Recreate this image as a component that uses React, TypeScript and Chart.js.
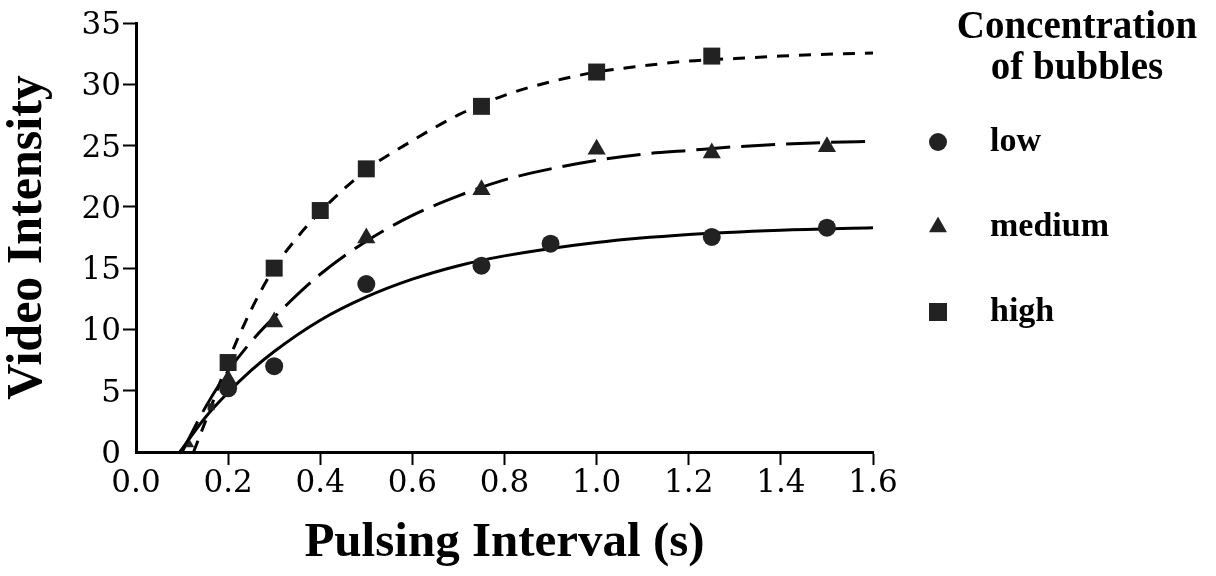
import React, { useEffect, useRef } from 'react';
import { Chart, registerables } from 'chart.js';

Chart.register(...registerables);

// ---- text ----
const seriesNames = ['low', 'medium', 'high'];
const legendTitleLines = ['Concentration', 'of bubbles'];
const xTitle = 'Pulsing Interval (s)';
const yTitle = 'Video Intensity';
const xTickLabels = ['0.0', '0.2', '0.4', '0.6', '0.8', '1.0', '1.2', '1.4', '1.6'];
const yTickLabels = ['0', '5', '10', '15', '20', '25', '30', '35'];

// ---- measured points ----
const lowX = [0.2, 0.3, 0.5, 0.75, 0.9, 1.25, 1.5];
const lowY = [5.2, 7.0, 13.7, 15.2, 17.0, 17.55, 18.3];
const mediumX = [0.117, 0.2, 0.3, 0.5, 0.75, 1.0, 1.25, 1.5];
const mediumY = [0.6, 5.9, 10.6, 17.45, 21.4, 24.7, 24.4, 24.9];
const highX = [0.163, 0.2, 0.3, 0.4, 0.5, 0.75, 1.0, 1.25];
const highY = [3.7, 7.3, 15.0, 19.7, 23.1, 28.2, 31.0, 32.3];

// ---- fitted curves ----
const lowFitX = [0.095, 0.15, 0.2, 0.25, 0.3, 0.4, 0.5, 0.6, 0.7, 0.8, 1.0, 1.2, 1.4, 1.6];
const lowFitY = [0, 2.8, 4.85, 6.65, 8.2, 10.75, 12.65, 14.1, 15.2, 16.0, 17.1, 17.75, 18.1, 18.3];
const mediumFitX = [0.1, 0.15, 0.2, 0.25, 0.3, 0.4, 0.5, 0.6, 0.7, 0.8, 0.9, 1.0, 1.1, 1.2, 1.3, 1.4, 1.5, 1.6];
const mediumFitY = [0, 3.6, 6.6, 9.0, 11.0, 14.5, 17.2, 19.3, 20.9, 22.2, 23.1, 23.8, 24.3, 24.6, 24.9, 25.1, 25.25, 25.35];
const highFitX = [0.125, 0.163, 0.2, 0.25, 0.3, 0.35, 0.4, 0.5, 0.6, 0.7, 0.8, 0.9, 1.0, 1.1, 1.2, 1.3, 1.4, 1.5, 1.6];
const highFitY = [0, 3.7, 7.4, 11.6, 15.0, 17.5, 19.6, 23.0, 25.4, 27.5, 29.1, 30.2, 31.0, 31.5, 31.9, 32.1, 32.3, 32.45, 32.55];

const markerColor = '#222222';
const lineColor = '#000000';
const serifFamily = '"Liberation Serif", "Times New Roman", serif';
const numFamily = '"DejaVu Serif", serif';

const pts = (xs: number[], ys: number[]) => xs.map((x, i) => ({ x, y: ys[i] }));

function makeMarker(kind: string, size: number, color: string): HTMLCanvasElement {
  const c = document.createElement('canvas');
  const s = size + 2;
  c.width = s;
  c.height = s;
  const g = c.getContext('2d') as CanvasRenderingContext2D;
  g.fillStyle = color;
  const m = s / 2;
  g.beginPath();
  if (kind === 'circle') {
    g.arc(m, m, size / 2, 0, Math.PI * 2);
  } else if (kind === 'triangle') {
    const h = (size * Math.sqrt(3)) / 2;
    g.moveTo(m, m - (h * 2) / 3);
    g.lineTo(m + size / 2, m + h / 3);
    g.lineTo(m - size / 2, m + h / 3);
    g.closePath();
  } else {
    g.rect(1, 1, size, size);
  }
  g.fill();
  return c;
}

const headerPlugin = {
  id: 'legendHeader',
  afterDraw(chart: any) {
    const ctx = chart.ctx as CanvasRenderingContext2D;
    ctx.save();
    ctx.font = `bold 39px ${serifFamily}`;
    ctx.fillStyle = '#000';
    ctx.textAlign = 'center';
    ctx.textBaseline = 'alphabetic';
    ctx.fillText(legendTitleLines[0], 1077, 38);
    ctx.fillText(legendTitleLines[1], 1077, 79);
    ctx.restore();
  },
};

const findLabel = (labels: string[], v: number) => {
  const l = labels.find((s) => Math.abs(parseFloat(s) - v) < 1e-6);
  return l === undefined ? '' : l;
};

export default function App() {
  const canvasRef = useRef<HTMLCanvasElement | null>(null);

  useEffect(() => {
    if (!canvasRef.current) return;
    const legendMarkers = [
      makeMarker('circle', 18, markerColor),
      makeMarker('triangle', 18, markerColor),
      makeMarker('rect', 18, markerColor),
    ];
    const pointStyles = ['circle', 'triangle', 'rect'];

    const scatterSets: any[] = [
      {
        label: seriesNames[0],
        data: pts(lowX, lowY),
        pointStyle: pointStyles[0],
        pointRadius: 9,
      },
      {
        label: seriesNames[1],
        data: pts(mediumX, mediumY),
        pointStyle: pointStyles[1],
        pointRadius: (c: any) => (c.dataIndex === 0 ? 5 : 10.5),
      },
      {
        label: seriesNames[2],
        data: pts(highX, highY),
        pointStyle: pointStyles[2],
        pointRadius: (c: any) => (c.dataIndex === 0 ? 5 : 12),
      },
    ].map((d) => ({
      ...d,
      showLine: false,
      pointBackgroundColor: markerColor,
      pointBorderColor: markerColor,
      pointBorderWidth: 0,
      pointHoverRadius: d.pointRadius,
      clip: false,
    }));

    const curveSets: any[] = [
      { label: seriesNames[0] + ' fit', data: pts(lowFitX, lowFitY), borderDash: [] },
      { label: seriesNames[1] + ' fit', data: pts(mediumFitX, mediumFitY), borderDash: [34, 11] },
      { label: seriesNames[2] + ' fit', data: pts(highFitX, highFitY), borderDash: [12, 10] },
    ].map((d) => ({
      ...d,
      showLine: true,
      pointRadius: 0,
      pointHoverRadius: 0,
      borderColor: lineColor,
      borderWidth: 3,
      cubicInterpolationMode: 'monotone',
      fill: false,
      clip: false,
    }));

    const chart = new Chart(canvasRef.current, {
      type: 'scatter',
      data: { datasets: [...scatterSets, ...curveSets] },
      plugins: [headerPlugin],
      options: {
        animation: false,
        responsive: false,
        events: [],
        layout: { padding: { top: 23, right: 97, bottom: 0, left: 0 } },
        plugins: {
          tooltip: { enabled: false },
          title: { display: false },
          legend: {
            position: 'right',
            align: 'center',
            fullSize: false,
            labels: {
              usePointStyle: true,
              pointStyleWidth: 70,
              padding: 30,
              textAlign: 'left',
              color: '#000',
              font: { family: serifFamily, size: 34, weight: 'bold', lineHeight: '55px' },
              generateLabels: () =>
                seriesNames.map((name, i) => ({
                  text: [name],
                  fillStyle: markerColor,
                  strokeStyle: markerColor,
                  lineWidth: 0,
                  pointStyle: legendMarkers[i],
                  hidden: false,
                  datasetIndex: i,
                  fontColor: '#000',
                })),
            },
          } as any,
        },
        scales: {
          x: {
            type: 'linear',
            min: 0,
            max: 1.6,
            ticks: {
              stepSize: 0.2,
              autoSkip: false,
              maxRotation: 0,
              padding: 0,
              color: '#000',
              font: { family: numFamily, size: 31 },
              callback: (v: any) => findLabel(xTickLabels, Number(v)),
            },
            grid: {
              drawOnChartArea: false,
              drawTicks: true,
              tickLength: 13,
              tickWidth: 2,
              tickColor: (c: any) => (c.tick && c.tick.value === 0 ? 'rgba(0,0,0,0)' : '#000'),
            },
            border: { display: true, color: '#000', width: 3 },
            title: {
              display: true,
              text: xTitle,
              color: '#000',
              font: { family: serifFamily, size: 49, weight: 'bold' },
              padding: { top: 0, bottom: 3 },
            },
            afterFit: (s: any) => {
              s.height = 124;
            },
          },
          y: {
            type: 'linear',
            min: 0,
            max: 35,
            ticks: {
              stepSize: 5,
              padding: 2,
              labelOffset: 3,
              color: '#000',
              font: { family: numFamily, size: 31 },
              callback: (v: any) => findLabel(yTickLabels, Number(v)),
            },
            grid: {
              drawOnChartArea: false,
              drawTicks: true,
              tickLength: 13,
              tickWidth: 2,
              tickColor: (c: any) => (c.tick && c.tick.value === 0 ? 'rgba(0,0,0,0)' : '#000'),
            },
            border: { display: true, color: '#000', width: 3 },
            title: {
              display: true,
              text: yTitle,
              color: '#000',
              font: { family: serifFamily, size: 50, weight: 'bold' },
              padding: { top: -2, bottom: 0 },
            },
            afterFit: (s: any) => {
              s.width = 136;
            },
          },
        },
      } as any,
    });
    return () => chart.destroy();
  }, []);

  return (
    <div style={{ position: 'fixed', left: 0, top: 0, width: 1216, height: 576, background: '#fff' }}>
      <canvas ref={canvasRef} width={1216} height={576} style={{ display: 'block' }} />
    </div>
  );
}
